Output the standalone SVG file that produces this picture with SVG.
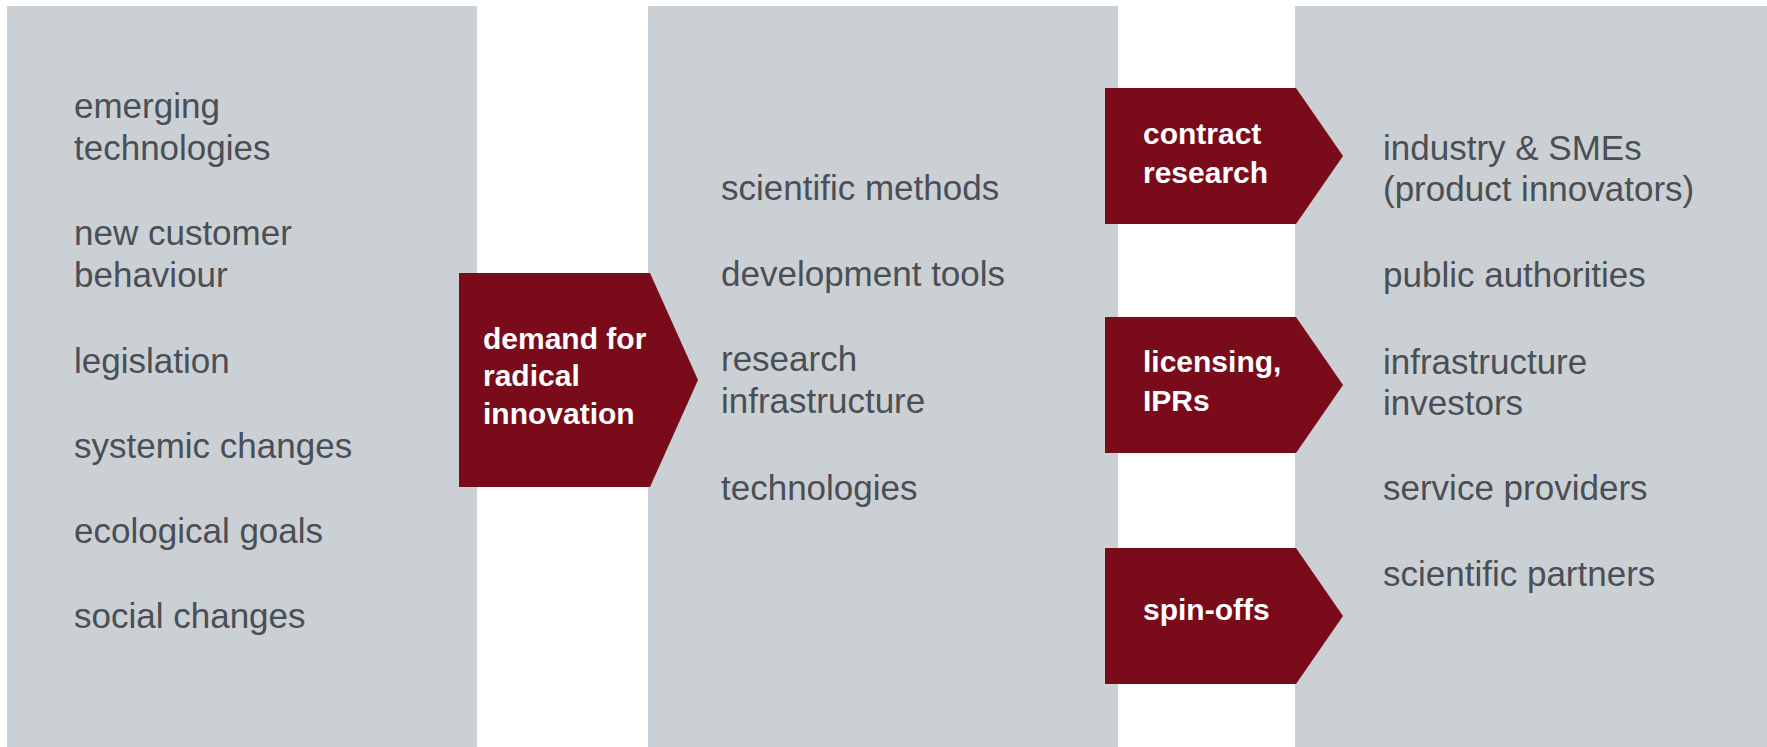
<svg xmlns="http://www.w3.org/2000/svg" width="1767" height="747" viewBox="0 0 1767 747">
<style>
.panel{fill:#cad0d3}
.chev{fill:#790b1a}
.t{font-family:"Liberation Sans",Arial,sans-serif;font-size:35px;fill:#4b4f55}
.b{font-family:"Liberation Sans",Arial,sans-serif;font-size:30px;font-weight:bold;fill:#ffffff}
</style>
<rect width="1767" height="747" fill="#ffffff"/>
<g id="panel-drivers">
<rect class="panel" x="7" y="6" width="470" height="741"/>
<text class="t" x="74" y="118">emerging</text>
<text class="t" x="74" y="160">technologies</text>
<text class="t" x="74" y="245">new customer</text>
<text class="t" x="74" y="287">behaviour</text>
<text class="t" x="74" y="373">legislation</text>
<text class="t" x="74" y="458">systemic changes</text>
<text class="t" x="74" y="543">ecological goals</text>
<text class="t" x="74" y="628">social changes</text>
</g>
<g id="panel-research">
<rect class="panel" x="648" y="6" width="470" height="741"/>
<text class="t" x="721" y="200">scientific methods</text>
<text class="t" x="721" y="286">development tools</text>
<text class="t" x="721" y="371">research</text>
<text class="t" x="721" y="413">infrastructure</text>
<text class="t" x="721" y="500">technologies</text>
</g>
<g id="panel-partners">
<rect class="panel" x="1295" y="6" width="472" height="741"/>
<text class="t" x="1383" y="160">industry &amp; SMEs</text>
<text class="t" x="1383" y="201">(product innovators)</text>
<text class="t" x="1383" y="287">public authorities</text>
<text class="t" x="1383" y="374">infrastructure</text>
<text class="t" x="1383" y="415">investors</text>
<text class="t" x="1383" y="500">service providers</text>
<text class="t" x="1383" y="586">scientific partners</text>
</g>
<g id="connectors">
<g id="demand">
<polygon class="chev" points="459,273 650,273 698,380 650,487 459,487"/>
<text class="b" x="483" y="349">demand for</text>
<text class="b" x="483" y="386">radical</text>
<text class="b" x="483" y="424">innovation</text>
</g>
<g id="contract-research">
<polygon class="chev" points="1105,88 1296,88 1343,156 1296,224 1105,224"/>
<text class="b" x="1143" y="144">contract</text>
<text class="b" x="1143" y="183">research</text>
</g>
<g id="licensing">
<polygon class="chev" points="1105,317 1296,317 1343,385 1296,453 1105,453"/>
<text class="b" x="1143" y="372">licensing,</text>
<text class="b" x="1143" y="411">IPRs</text>
</g>
<g id="spin-offs">
<polygon class="chev" points="1105,548 1296,548 1343,616 1296,684 1105,684"/>
<text class="b" x="1143" y="620">spin-offs</text>
</g>
</g>
</svg>
